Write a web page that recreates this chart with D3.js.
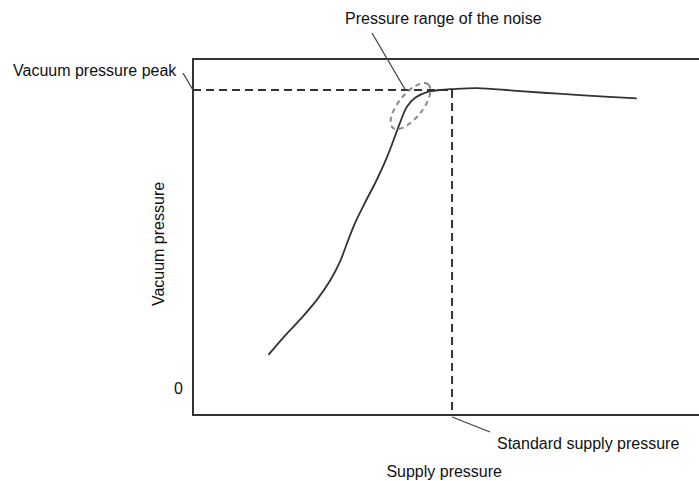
<!DOCTYPE html>
<html>
<head>
<meta charset="utf-8">
<script src="https://cdn.jsdelivr.net/npm/d3@7"></script>
<style>
    body { margin: 0; background: #fff; }
    svg { display: block; font-family: "Liberation Sans", Arial, sans-serif; }
    .frame { fill: none; stroke: #333; stroke-width: 2; }
    .curve { fill: none; stroke: #333; stroke-width: 1.8; }
    .guide { fill: none; stroke: #333; stroke-width: 2; stroke-dasharray: 8 5; }
    .noise { fill: none; stroke: #8a8a8a; stroke-width: 2; stroke-dasharray: 5 4; }
    .leader { fill: none; stroke: #444; stroke-width: 1.3; }
    text { fill: #111; font-size: 16px; }
</style>
</head>
<body>
<svg id="chart" width="699" height="481"></svg>
<script>
// supply pressure (arbitrary units) vs vacuum pressure (% of peak)
var supply = [1.47, 1.76, 2.09, 2.41, 2.67, 2.87, 3.00, 3.16, 3.35, 3.58, 3.78, 3.94,
    4.04, 4.17, 4.33, 4.56, 4.81, 5.06, 5.54, 6.24, 6.90, 7.54, 8.65];
var vacuum = [11.1, 16.9, 23.0, 29.5, 36.0, 42.6, 48.5, 55.4, 62.1, 69.8, 77.4, 84.6,
    89.2, 94.4, 97.4, 99.3, 100, 100.3, 100.6, 99.8, 99.0, 98.3, 97.2];

var standardSupply = 5.05;
var vacuumPeak = 100;
var noiseCenter = [4.24, 94.6];
var yTicks = [0];

var labels = {
    peak: 'Vacuum pressure peak',
    noise: 'Pressure range of the noise',
    standard: 'Standard supply pressure',
    xTitle: 'Supply pressure',
    yTitle: 'Vacuum pressure'
};

var svg = d3.select('svg#chart');

var box = {left: 193, right: 712, top: 59, bottom: 415};

var x = d3.scaleLinear().domain([0, 10]).range([193, 706]);
var y = d3.scaleLinear().domain([0, 100]).range([388, 90]);

// frame (right side runs off the picture)
svg.append('rect')
    .attr('class', 'frame')
    .attr('x', box.left)
    .attr('y', box.top)
    .attr('width', box.right - box.left)
    .attr('height', box.bottom - box.top);

// only the zero label on the vertical axis
var yAxis = d3.axisLeft(y)
    .tickValues(yTicks)
    .tickSize(0)
    .tickPadding(10)
    .tickFormat(d3.format('d'));

var gY = svg.append('g')
    .attr('transform', 'translate(' + box.left + ',0)')
    .call(yAxis);
gY.select('.domain').remove();
gY.selectAll('text')
    .attr('font-size', 16)
    .attr('font-family', '"Liberation Sans", Arial, sans-serif')
    .attr('fill', '#111');

// dashed guides to peak and standard supply
svg.append('line')
    .attr('class', 'guide')
    .attr('x1', box.left)
    .attr('x2', x(standardSupply))
    .attr('y1', y(vacuumPeak))
    .attr('y2', y(vacuumPeak));

svg.append('line')
    .attr('class', 'guide')
    .attr('x1', x(standardSupply))
    .attr('x2', x(standardSupply))
    .attr('y1', y(vacuumPeak))
    .attr('y2', box.bottom);

var points = supply.map(function(d, i) {
    return [d, vacuum[i]];
});

var valueline = d3.line()
    .curve(d3.curveCatmullRom.alpha(0.5))
    .x(function(d) { return x(d[0]); })
    .y(function(d) { return y(d[1]); });

svg.append('path')
    .datum(points)
    .attr('class', 'curve')
    .attr('d', valueline);

// noise ellipse
svg.append('ellipse')
    .attr('class', 'noise')
    .attr('rx', 28)
    .attr('ry', 12)
    .attr('transform', 'translate(' + x(noiseCenter[0]) + ',' + y(noiseCenter[1]) + ') rotate(-51)');

// leaders
var leaders = [
    [[183, 73], [box.left, y(vacuumPeak)]],
    [[372, 33], [406, y(vacuumPeak) + 1]],
    [[x(standardSupply), box.bottom + 2], [490, 432]]
];
svg.selectAll('.leader')
    .data(leaders)
    .enter()
    .append('path')
    .attr('class', 'leader')
    .attr('d', d3.line());

svg.append('text')
    .attr('x', 13)
    .attr('y', 76)
    .text(labels.peak);

svg.append('text')
    .attr('x', 345)
    .attr('y', 24)
    .text(labels.noise);

svg.append('text')
    .attr('x', 497)
    .attr('y', 449)
    .text(labels.standard);

svg.append('text')
    .attr('x', 502)
    .attr('y', 477)
    .attr('text-anchor', 'end')
    .text(labels.xTitle);

svg.append('text')
    .attr('transform', 'translate(164,244) rotate(-90)')
    .attr('text-anchor', 'middle')
    .text(labels.yTitle);
</script>
</body>
</html>
